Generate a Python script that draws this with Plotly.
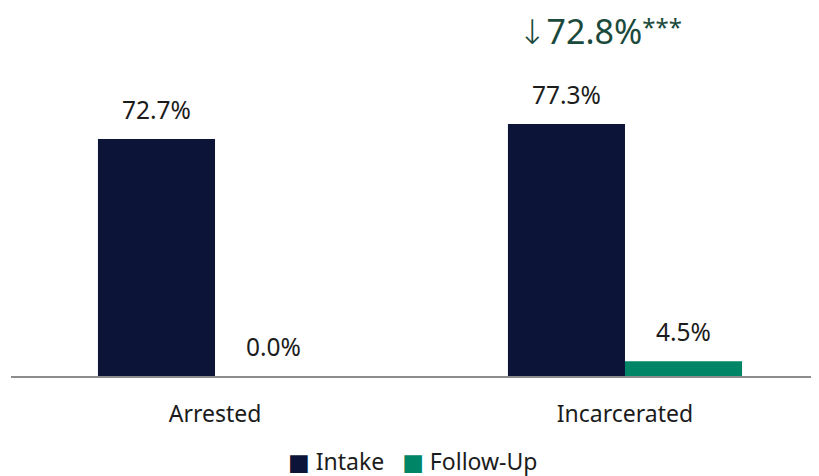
import plotly.graph_objects as go

categories = ["Arrested", "Incarcerated"]
intake = [72.7, 77.3]
follow_up = [0.0, 4.5]
series_names = ["Intake", "Follow-Up"]
change_label = "72.8%"
change_stars = "***"

navy = "#0c1437"
green = "#008566"
text_color = "#1c1c1c"
font = "Noto Sans"

fig = go.Figure()
fig.add_trace(go.Bar(x=categories, y=intake, name=series_names[0], marker_color=navy,
                     marker_line_width=0))
fig.add_trace(go.Bar(x=categories, y=follow_up, name=series_names[1], marker_color=green,
                     marker_line_width=0))

for i, cat in enumerate(categories):
    for vals, shift in ((intake, -58.5), (follow_up, 58.5)):
        fig.add_annotation(x=cat, y=vals[i], text=f"{vals[i]:.1f}%", showarrow=False,
                           xshift=shift, yshift=11, yanchor="bottom",
                           font=dict(family=font, size=24.5, color=text_color))

fig.add_annotation(
    x=categories[1], y=intake[1],
    text=("<span style='font-family:DejaVu Sans;font-weight:300'>↓</span>" + change_label
          + "<span style='font-size:24px;baseline-shift:8px'>" + change_stars + "</span>"),
    showarrow=False, xshift=-25, yshift=68, yanchor="bottom",
    font=dict(family=font, size=34, color="#1b4a3c"))

# legend row built from the series names / colours
nb = "\u00a0"
legend_text = (f"<span style='font-family:DejaVu Sans;color:{navy}'>■</span>{nb}{series_names[0]}"
               f"{nb}{nb}{nb}<span style='font-family:DejaVu Sans;color:{green}'>■</span>{nb}{series_names[1]}")
fig.add_annotation(xref="paper", yref="paper", x=0.4975, y=-0.2607, xanchor="center",
                   yanchor="middle", text=legend_text, showarrow=False,
                   font=dict(family=font, size=23, color=text_color))

fig.update_layout(
    width=811, height=468,
    margin=dict(l=3, r=0, t=42, b=100, autoexpand=False),
    paper_bgcolor="white", plot_bgcolor="white",
    barmode="group", bargap=0.429, bargroupgap=0,
    showlegend=False,
    font=dict(family=font),
)
fig.update_xaxes(range=[-0.4976, 1.4732], showline=True, linecolor="#8c8c8c", linewidth=2,
                 ticks="", ticklabelstandoff=16,
                 tickfont=dict(family=font, size=23, color=text_color),
                 showgrid=False)
fig.update_yaxes(range=[0, 100], visible=False, showgrid=False, zeroline=False)

fig.write_html("out.html")
